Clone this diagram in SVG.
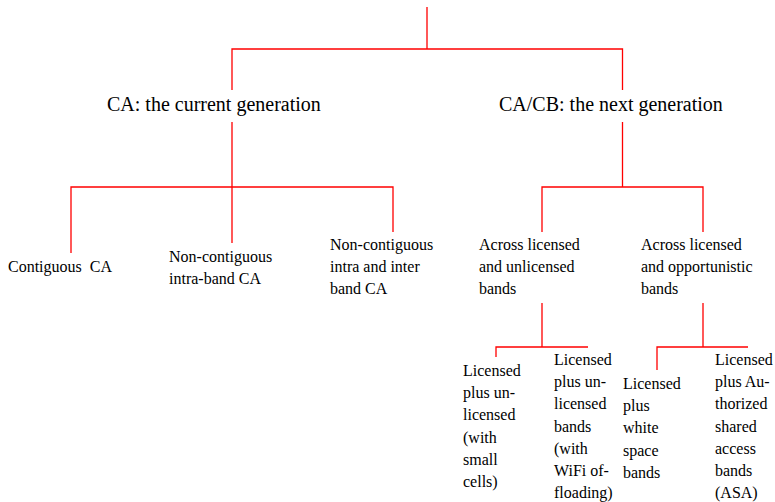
<svg xmlns="http://www.w3.org/2000/svg" width="775" height="502" viewBox="0 0 775 502">
  <style>
    .edge { fill: none; stroke: #ff0000; stroke-width: 1.3; }
  </style>
  <rect width="775" height="502" fill="#ffffff"/>

  <!-- tree connectors -->
  <g id="connectors">
    <!-- root to the two generations -->
    <path class="edge" d="M427,7 V49 M232,90 V49 H622.5 V90"/>
    <!-- current generation -->
    <path class="edge" d="M232,122 V187 M71,253 V187 H393 V232 M232,187 V243"/>
    <!-- next generation -->
    <path class="edge" d="M622.5,122 V187 M542,232 V187 H703 V232"/>
    <!-- licensed + unlicensed -->
    <path class="edge" d="M542,303 V347 M496,357 V347 H588"/>
    <!-- licensed + opportunistic -->
    <path class="edge" d="M703,303 V347 M657,370 V347 H748"/>
  </g>

  <g font-family="Times New Roman" fill="#000000">
    <g id="node-current">
      <text x="107" y="111" font-size="20" font-family="Times New Roman">CA: the current generation</text>
    </g>
    <g id="node-next">
      <text x="499" y="111" font-size="20" font-family="Times New Roman">CA/CB: the next generation</text>
    </g>

    <g id="node-contiguous">
      <text x="8" y="272" font-size="16" word-spacing="4" font-family="Times New Roman">Contiguous CA</text>
    </g>
    <g id="node-intra">
      <text x="169" y="262" font-size="16" font-family="Times New Roman"><tspan x="169">Non-contiguous</tspan><tspan x="169" dy="22">intra-band CA</tspan></text>
    </g>
    <g id="node-inter">
      <text x="330" y="250" font-size="16" font-family="Times New Roman"><tspan x="330">Non-contiguous</tspan><tspan x="330" dy="22">intra and inter</tspan><tspan x="330" dy="22">band CA</tspan></text>
    </g>

    <g id="node-unlicensed">
      <text x="479" y="250" font-size="16" font-family="Times New Roman"><tspan x="479">Across licensed</tspan><tspan x="479" dy="22">and unlicensed</tspan><tspan x="479" dy="22">bands</tspan></text>
    </g>
    <g id="node-opportunistic">
      <text x="641" y="250" font-size="16" font-family="Times New Roman"><tspan x="641">Across licensed</tspan><tspan x="641" dy="22">and opportunistic</tspan><tspan x="641" dy="22">bands</tspan></text>
    </g>

    <g id="node-small-cells">
      <text x="463" y="376" font-size="16" font-family="Times New Roman"><tspan x="463">Licensed</tspan><tspan x="463" dy="22.2">plus un-</tspan><tspan x="463" dy="22.2">licensed</tspan><tspan x="463" dy="22.2">(with</tspan><tspan x="463" dy="22.2">small</tspan><tspan x="463" dy="22.2">cells)</tspan></text>
    </g>
    <g id="node-wifi">
      <text x="554" y="365" font-size="16" font-family="Times New Roman"><tspan x="554">Licensed</tspan><tspan x="554" dy="22.2">plus un-</tspan><tspan x="554" dy="22.2">licensed</tspan><tspan x="554" dy="22.2">bands</tspan><tspan x="554" dy="22.2">(with</tspan><tspan x="554" dy="22.2">WiFi of-</tspan><tspan x="554" dy="22.2">floading)</tspan></text>
    </g>
    <g id="node-white-space">
      <text x="623" y="389" font-size="16" font-family="Times New Roman"><tspan x="623">Licensed</tspan><tspan x="623" dy="22.2">plus</tspan><tspan x="623" dy="22.2">white</tspan><tspan x="623" dy="22.2">space</tspan><tspan x="623" dy="22.2">bands</tspan></text>
    </g>
    <g id="node-asa">
      <text x="715" y="365" font-size="16" font-family="Times New Roman"><tspan x="715">Licensed</tspan><tspan x="715" dy="22.2">plus Au-</tspan><tspan x="715" dy="22.2">thorized</tspan><tspan x="715" dy="22.2">shared</tspan><tspan x="715" dy="22.2">access</tspan><tspan x="715" dy="22.2">bands</tspan><tspan x="715" dy="22.2">(ASA)</tspan></text>
    </g>
  </g>
</svg>
